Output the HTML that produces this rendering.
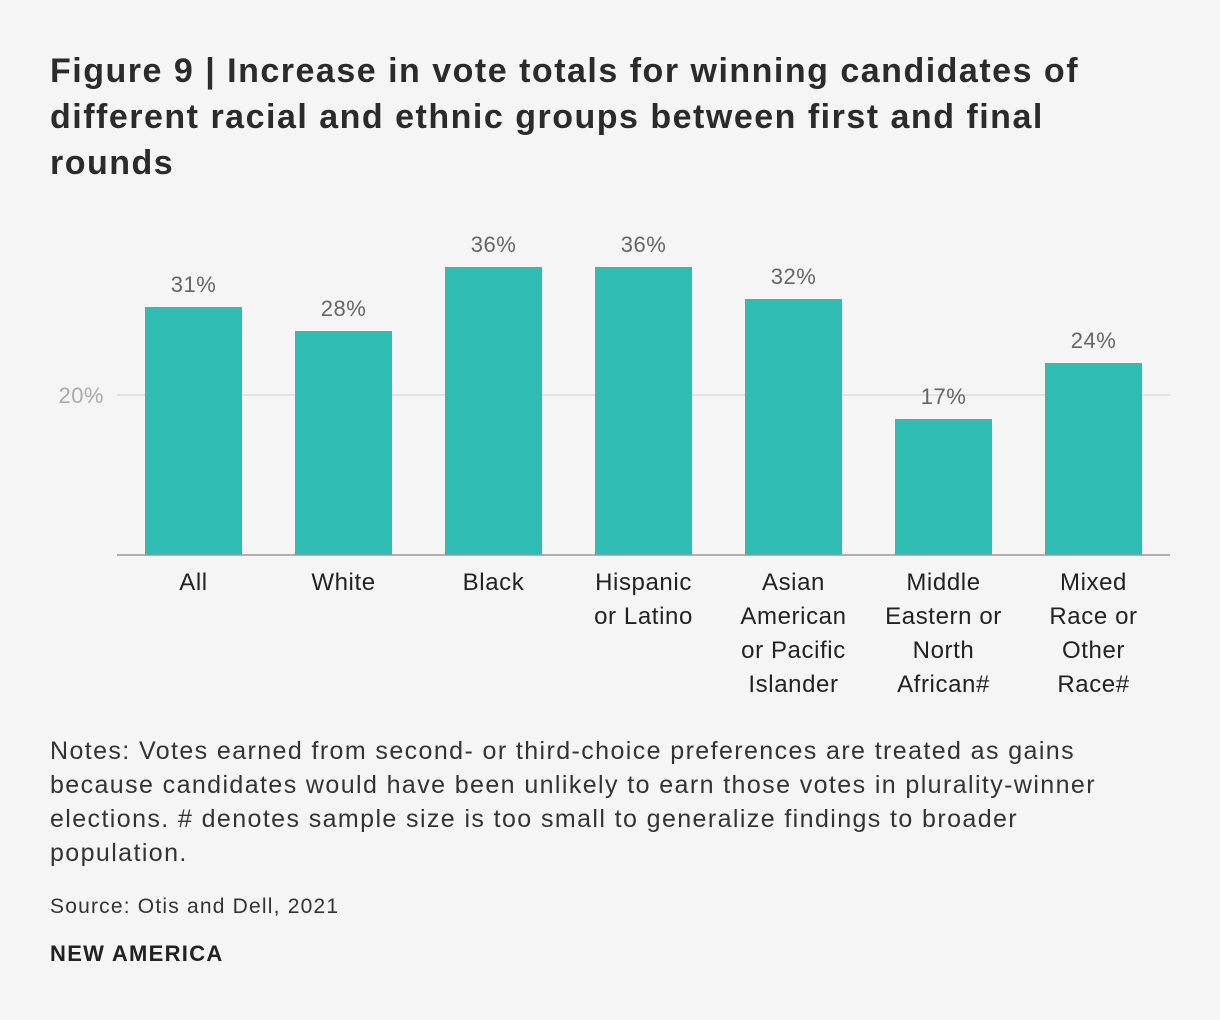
<!DOCTYPE html>
<html><head><meta charset="utf-8"><style>
body{margin:0;width:1220px;height:1020px;background:#f5f5f5;font-family:"Liberation Sans",sans-serif;color:#222;position:relative;overflow:hidden}
#title{position:absolute;left:50px;top:48px;width:1160px;font-size:34px;font-weight:bold;line-height:46px;color:#2b2b2b;margin:0;letter-spacing:1.5px;white-space:nowrap}
#notes{position:absolute;left:50px;top:734px;width:1160px;font-size:25px;line-height:34px;color:#333;letter-spacing:1.4px;white-space:nowrap}
#source{position:absolute;left:50px;top:895px;font-size:21px;color:#333;letter-spacing:1.2px}
#brand{position:absolute;left:50px;top:941px;font-size:22px;font-weight:bold;color:#222;letter-spacing:1.3px}
svg{position:absolute;left:0;top:0}
</style></head><body>
<h1 id="title">Figure 9 | Increase in vote totals for winning candidates of<br>different racial and ethnic groups between first and final<br>rounds</h1>
<svg id="chart" width="1220" height="720"></svg>
<div id="notes">Notes: Votes earned from second- or third-choice preferences are treated as gains<br>because candidates would have been unlikely to earn those votes in plurality-winner<br>elections. # denotes sample size is too small to generalize findings to broader<br>population.</div>
<div id="source">Source: Otis and Dell, 2021</div>
<div id="brand">NEW AMERICA</div>
<script>
const categories=[["All"],["White"],["Black"],["Hispanic","or Latino"],["Asian","American","or Pacific","Islander"],["Middle","Eastern or","North","African#"],["Mixed","Race or","Other","Race#"]];
const values=[31,28,36,36,32,17,24];
const yTicks=[20];
const NS="http://www.w3.org/2000/svg";
const svg=document.getElementById('chart');
const x0=118.5,band=150,barW=97,baseY=555,pxPer=8;
const y=v=>baseY-v*pxPer;
const xs=i=>x0+i*band+(band-barW)/2;
function mk(t,a){const e=document.createElementNS(NS,t);for(const k in a)e.setAttribute(k,a[k]);svg.appendChild(e);return e;}
yTicks.forEach(t=>{
 const g=mk('line',{x1:117,x2:1170,y1:y(t),y2:y(t),stroke:'#dcdcdc','stroke-width':1.5});
 
 
 const l=mk('text',{x:104,y:y(t)+8,'text-anchor':'end','font-size':22,fill:'#aaa','letter-spacing':'0.5'});
 l.textContent=t+'%';
 
 
});
values.forEach((v,i)=>{
 const r=mk('rect',{x:xs(i),y:y(v),width:barW,height:v*pxPer,fill:'#2ebcb3'});
 
 
 const t=mk('text',{x:xs(i)+barW/2,y:y(v)-15,'text-anchor':'middle','font-size':22,fill:'#666','letter-spacing':'0.5'});
 t.textContent=v+'%';
 
 
 categories[i].forEach((ln,j)=>{
  const c=mk('text',{x:xs(i)+barW/2,y:590+j*34,'text-anchor':'middle','font-size':24,fill:'#222','letter-spacing':'0.6'});
  c.textContent=ln;
  
  
 });
});
const ax=mk('line',{x1:117,x2:1170,y1:baseY,y2:baseY,stroke:'#999','stroke-width':1.5});


</script>
</body></html>
